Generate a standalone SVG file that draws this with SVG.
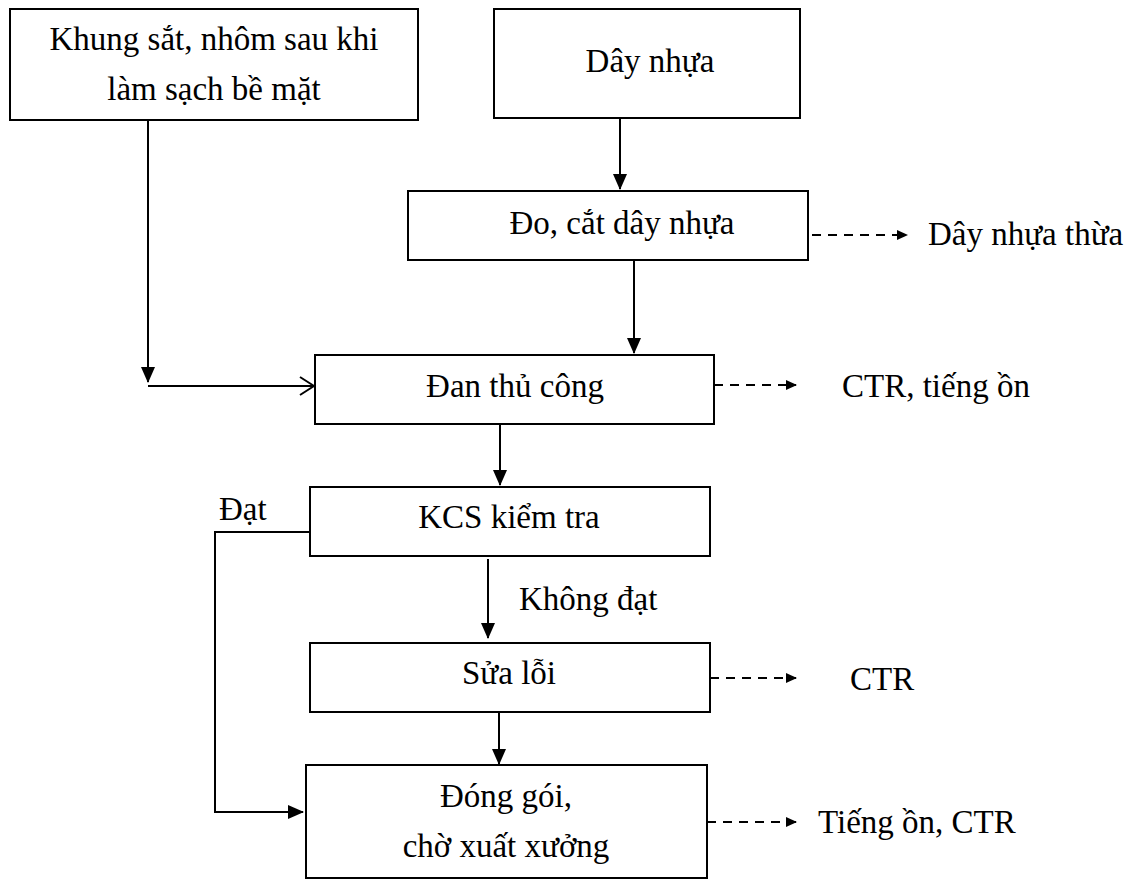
<svg xmlns="http://www.w3.org/2000/svg" width="1143" height="880" viewBox="0 0 1143 880">
<style>
.box{fill:#fff;stroke:#000;stroke-width:2}
.t{font-family:"Liberation Serif","Times New Roman","DejaVu Serif",serif;font-size:33px;fill:#000}
.c{text-anchor:middle}
.ln{fill:none;stroke:#000;stroke-width:2}
.ds{fill:none;stroke:#000;stroke-width:2;stroke-dasharray:9 7}
</style>
<defs>
<marker id="ah" markerWidth="11" markerHeight="11" refX="10" refY="5.5" orient="auto" markerUnits="userSpaceOnUse" viewBox="0 0 11 11"><path d="M0,0.5 L11,5.5 L0,10.5 Z" fill="#000"/></marker>
<marker id="ad" markerWidth="16" markerHeight="16" refX="15" refY="8" orient="auto" markerUnits="userSpaceOnUse" viewBox="0 0 16 16"><path d="M0,1 L16,8 L0,15 Z" fill="#000"/></marker>
<marker id="ao" markerWidth="16" markerHeight="20" refX="15" refY="10" orient="auto" markerUnits="userSpaceOnUse" viewBox="0 0 16 20"><path d="M1,1 L15,10 L1,19" fill="none" stroke="#000" stroke-width="2"/></marker>
</defs>
<g id="n1"><rect class="box" x="10" y="9" width="408" height="111"/><text class="t c" font-family="Liberation Serif, serif" x="214" y="50">Khung sắt, nhôm sau khi</text><text class="t c" font-family="Liberation Serif, serif" x="214" y="100">làm sạch bề mặt</text></g>
<g id="n2"><rect class="box" x="494" y="9" width="306" height="109"/><text class="t c" font-family="Liberation Serif, serif" x="650" y="72">Dây nhựa</text></g>
<g id="n3"><rect class="box" x="408" y="191" width="400" height="69"/><text class="t c" font-family="Liberation Serif, serif" x="622" y="234">Đo, cắt dây nhựa</text></g>
<g id="n4"><rect class="box" x="315" y="355" width="399" height="69"/><text class="t c" font-family="Liberation Serif, serif" x="515" y="397">Đan thủ công</text></g>
<g id="n5"><rect class="box" x="310" y="487" width="400" height="69"/><text class="t c" font-family="Liberation Serif, serif" x="509" y="528">KCS kiểm tra</text></g>
<g id="n6"><rect class="box" x="310" y="643" width="400" height="69"/><text class="t c" font-family="Liberation Serif, serif" x="509" y="684">Sửa lỗi</text></g>
<g id="n7"><rect class="box" x="306" y="765" width="401" height="113"/><text class="t c" font-family="Liberation Serif, serif" x="506" y="807">Đóng gói,</text><text class="t c" font-family="Liberation Serif, serif" x="506" y="857">chờ xuất xưởng</text></g>
<g id="o1"><text class="t" font-family="Liberation Serif, serif" x="928" y="245">Dây nhựa thừa</text></g>
<g id="o2"><text class="t" font-family="Liberation Serif, serif" x="842" y="397">CTR, tiếng ồn</text></g>
<g id="o3"><text class="t" font-family="Liberation Serif, serif" x="850" y="690">CTR</text></g>
<g id="o4"><text class="t" font-family="Liberation Serif, serif" x="818" y="833">Tiếng ồn, CTR</text></g>
<g id="labels"><text class="t" font-family="Liberation Serif, serif" x="219" y="520">Đạt</text><text class="t" font-family="Liberation Serif, serif" x="519" y="610">Không đạt</text></g>
<g id="connectors">
<line class="ln" x1="620" y1="118" x2="620" y2="189" marker-end="url(#ad)"/>
<line class="ln" x1="634" y1="260" x2="634" y2="353" marker-end="url(#ad)"/>
<line class="ln" x1="148" y1="120" x2="148" y2="382" marker-end="url(#ad)"/>
<line class="ln" x1="148" y1="386" x2="314" y2="386" marker-end="url(#ao)"/>
<line class="ln" x1="500" y1="424" x2="500" y2="485" marker-end="url(#ad)"/>
<line class="ln" x1="488" y1="559" x2="488" y2="638" marker-end="url(#ad)"/>
<line class="ln" x1="499" y1="712" x2="499" y2="764" marker-end="url(#ad)"/>
<polyline class="ln" points="310,532 215,532 215,812 303,812" marker-end="url(#ad)"/>
<line class="ds" x1="812" y1="235" x2="907" y2="235" marker-end="url(#ah)"/>
<line class="ds" x1="714" y1="385" x2="796" y2="385" marker-end="url(#ah)"/>
<line class="ds" x1="710" y1="678" x2="796" y2="678" marker-end="url(#ah)"/>
<line class="ds" x1="707" y1="822" x2="796" y2="822" marker-end="url(#ah)"/>
</g>
</svg>
